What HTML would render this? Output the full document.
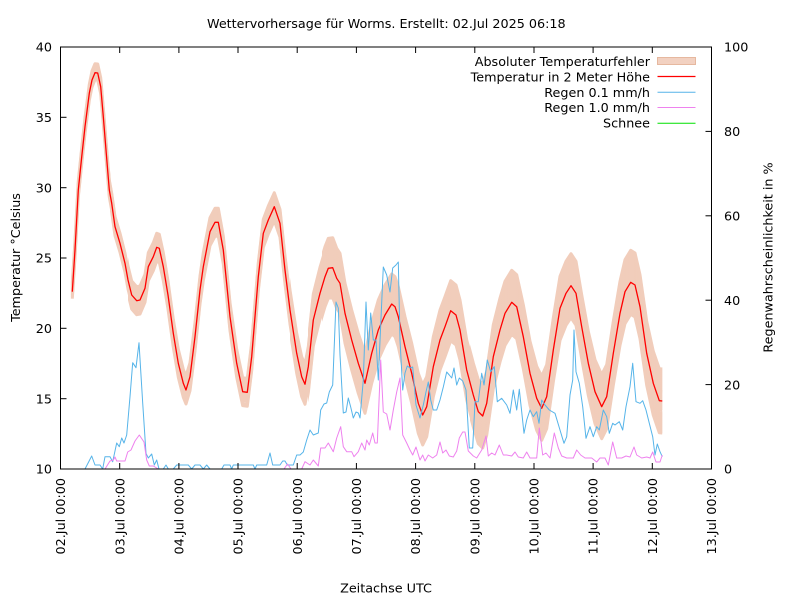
<!DOCTYPE html>
<html>
<head>
<meta charset="utf-8">
<style>
  html,body{margin:0;padding:0;background:#fff;}
  svg{display:block;}
  text{font-family:"DejaVu Sans","Liberation Sans",sans-serif;font-size:12.75px;fill:#000;}
</style>
</head>
<body>
<svg width="800" height="600" viewBox="0 0 800 600" xmlns="http://www.w3.org/2000/svg">
<defs>
  <polyline id="tb" fill="none" stroke="#f1cdbb" stroke-width="3" stroke-linejoin="round" points="72.3,291.7 75,250 78.3,190 81.7,157 85,126.7 89.3,93.3 92,80 95,72.7 97.7,73 100.7,86.7 103.3,116.7 106,150 109.3,190 111.7,203.3 115,226.7 120,243.3 125,263.3 128,280 131.7,295 136.7,300.7 140,300 145,288.3 148.3,266.7 153.3,256.7 156.7,247.3 159.3,248.3 163.3,266.7 168,295 173.3,333.3 178.3,363.3 183.3,383.3 186,390 190,376.7 195,336.7 200,290 203.3,266.7 210,231.7 215,222.3 218.3,222.3 223.3,250 230,316.7 236.7,363.3 242.7,391.7 247.3,392.3 251.7,356.7 258.3,276.7 263.3,233.3 268.3,220 274.3,206.7 280,223.3 285,270 290,310 296.7,353.3 301.7,376.7 305,384.3 308.3,366.7 313.3,320 320,293.3 325,276.7 328.3,268.3 332.7,267.7 336.7,278.3 340,283.3 345,313.3 351.7,340 358.3,363.3 365,383.3 371.7,353.3 378.3,330 385,315 391.7,304 395,306.7 398.3,316.7 405,346.7 411.7,373.3 418.3,403.3 422.7,415 426.7,406.7 433.3,366.7 440,340 445,326.7 450.7,310.7 456,315 460,330 466.7,370 473.3,395 478.3,411.7 482.7,416 486.7,403.3 493.3,356.7 500,330 505,313.3 511.7,302.3 516.7,306.7 523.3,336.7 530,373.3 536.7,398.3 541.7,408.3 546.7,396.7 553.3,350 560,308.3 566,293.3 571,285.7 576,293.3 581.7,326.7 588.3,363.3 595,391.7 601.7,406.7 606.7,396.7 613.3,353.3 620,313.3 625,291.7 630.7,282.3 635,285 640,306.7 646.7,353.3 653.3,383.3 659.3,400.7 662.3,401"/>
  <clipPath id="c1"><rect x="110" y="0" width="700" height="600"/></clipPath>
  <clipPath id="c2"><rect x="128" y="0" width="700" height="600"/></clipPath>
  <clipPath id="c3"><rect x="290" y="0" width="700" height="600"/></clipPath>
  <clipPath id="c4"><rect x="308" y="0" width="700" height="600"/></clipPath>
  <clipPath id="c5"><rect x="322" y="0" width="700" height="600"/></clipPath>
  <clipPath id="c6"><rect x="470" y="0" width="700" height="600"/></clipPath>
</defs>

<!-- Error band -->
<g>
  <use href="#tb" transform="translate(0,-9)"/>
  <use href="#tb" transform="translate(0,-7)"/>
  <use href="#tb" transform="translate(0,-5)"/>
  <use href="#tb" transform="translate(0,-3)"/>
  <use href="#tb" transform="translate(0,-1)"/>
  <use href="#tb" transform="translate(0,1)"/>
  <use href="#tb" transform="translate(0,3)"/>
  <use href="#tb" transform="translate(0,5)"/>
  <use href="#tb" transform="translate(0,7)"/>
</g>
<g clip-path="url(#c1)">
  <use href="#tb" transform="translate(0,-10)"/>
  <use href="#tb" transform="translate(0,9)"/>
</g>
<g clip-path="url(#c2)">
  <use href="#tb" transform="translate(0,-12)"/>
  <use href="#tb" transform="translate(0,12)"/>
  <use href="#tb" transform="translate(0,-14)"/>
  <use href="#tb" transform="translate(0,14)"/>
</g>
<g clip-path="url(#c3)">
  <use href="#tb" transform="translate(0,-16)"/>
  <use href="#tb" transform="translate(0,16)"/>
  <use href="#tb" transform="translate(0,-18)"/>
  <use href="#tb" transform="translate(0,18)"/>
  <use href="#tb" transform="translate(0,-20)"/>
  <use href="#tb" transform="translate(0,20)"/>
</g>
<g clip-path="url(#c4)">
  <use href="#tb" transform="translate(0,-22)"/>
  <use href="#tb" transform="translate(0,22)"/>
  <use href="#tb" transform="translate(0,-24)"/>
  <use href="#tb" transform="translate(0,24)"/>
  <use href="#tb" transform="translate(0,-26)"/>
  <use href="#tb" transform="translate(0,26)"/>
</g>
<g clip-path="url(#c5)">
  <use href="#tb" transform="translate(0,-28)"/>
  <use href="#tb" transform="translate(0,28)"/>
  <use href="#tb" transform="translate(0,-30)"/>
  <use href="#tb" transform="translate(0,30)"/>
</g>
<g clip-path="url(#c6)">
  <use href="#tb" transform="translate(0,-32)"/>
  <use href="#tb" transform="translate(0,32)"/>
</g>

<!-- Temperature line -->
<polyline fill="none" stroke="#ff0000" stroke-width="1.3" stroke-linejoin="round" points="72.3,291.7 75,250 78.3,190 81.7,157 85,126.7 89.3,93.3 92,80 95,72.7 97.7,73 100.7,86.7 103.3,116.7 106,150 109.3,190 111.7,203.3 115,226.7 120,243.3 125,263.3 128,280 131.7,295 136.7,300.7 140,300 145,288.3 148.3,266.7 153.3,256.7 156.7,247.3 159.3,248.3 163.3,266.7 168,295 173.3,333.3 178.3,363.3 183.3,383.3 186,390 190,376.7 195,336.7 200,290 203.3,266.7 210,231.7 215,222.3 218.3,222.3 223.3,250 230,316.7 236.7,363.3 242.7,391.7 247.3,392.3 251.7,356.7 258.3,276.7 263.3,233.3 268.3,220 274.3,206.7 280,223.3 285,270 290,310 296.7,353.3 301.7,376.7 305,384.3 308.3,366.7 313.3,320 320,293.3 325,276.7 328.3,268.3 332.7,267.7 336.7,278.3 340,283.3 345,313.3 351.7,340 358.3,363.3 365,383.3 371.7,353.3 378.3,330 385,315 391.7,304 395,306.7 398.3,316.7 405,346.7 411.7,373.3 418.3,403.3 422.7,415 426.7,406.7 433.3,366.7 440,340 445,326.7 450.7,310.7 456,315 460,330 466.7,370 473.3,395 478.3,411.7 482.7,416 486.7,403.3 493.3,356.7 500,330 505,313.3 511.7,302.3 516.7,306.7 523.3,336.7 530,373.3 536.7,398.3 541.7,408.3 546.7,396.7 553.3,350 560,308.3 566,293.3 571,285.7 576,293.3 581.7,326.7 588.3,363.3 595,391.7 601.7,406.7 606.7,396.7 613.3,353.3 620,313.3 625,291.7 630.7,282.3 635,285 640,306.7 646.7,353.3 653.3,383.3 659.3,400.7 662.3,401"/>

<!-- Regen 0.1 mm/h -->
<polyline fill="none" stroke="#56b4e9" stroke-width="1" stroke-linejoin="round" points="72.3,469 85,469 91.7,456 95,465 100,465 102.7,469 105,456.7 110,456.7 112.7,461.7 116.7,443 119.3,446.7 121.7,438 124,443 126.7,435 130,396.7 132.7,362.7 136,367.7 139,342.7 142.7,403 146,453.3 148.3,458 151.7,454 154.3,465 156.7,460 159,469 163.3,469 166,465 168.3,469 173.3,469 176.7,465 188.3,465 191.7,469 195,465 200,465 203.3,469 206.7,465 210,469 221.7,469 224,465 230,465 231.7,469 233.3,465 253.3,465 255,469 256.7,465 266.7,465 270,453 272.7,465 280,465 282.7,461 285,461 287.3,465 293.3,465 296.7,455 300,455 303.3,452 306.7,440 310,430 313.3,435 318.3,433 320.7,410 324,404 326.7,403 329.3,392 332.7,385 336,302 338.3,308 340,355 343.3,413 346,412 348.3,398 350.7,407 353.3,418 356,412 358.3,413 360,418 363.3,380 366,302 368.3,350 370.7,313 373.3,340 376,340 378.3,380 380.7,325 383.3,267 386.7,275 390,292 392.7,268 396,265 398.3,262 400,340 402.7,390 405,373 407.3,366 410,368 412.7,367 416,405 420,418 423.3,405 426,392 428.3,382 430.7,400 433.3,410 436.7,410 440,400 443.3,387 446.7,372 449.3,375 451.7,378 454,368 456.7,385 459.3,378 462.7,381 466,390 469.3,448 472.7,448 475,401.7 478.3,401.7 481.7,373.3 484,385 487.3,360 490.7,371.7 494.3,366.7 497.3,401.7 501.7,398.3 506.7,405 510,413.3 513.3,390 516.7,410 519.3,389.3 524,433.3 526.7,420 530,410 533.3,416.7 536.7,411.7 539,423.3 541.7,400 545,405 549.3,410 555,413.3 560,430 564,443.3 566.7,436.7 570,395 572.7,380 574,330 576,371.7 579.3,383.3 582.7,406.7 586,438.3 590,426.7 593.3,436.7 596.7,426.7 599.3,430 603.3,410 606.7,416.7 609.3,433.3 612.7,423.3 615,425 619.3,421.7 622.7,430 626,406.7 630,386.7 632.7,363.3 636,401.7 640,403.3 642.7,400.7 646,410 649.3,423.3 652.7,436.7 655,455 657.3,444 660,451.7 662.3,456.7"/>

<!-- Regen 1.0 mm/h -->
<polyline fill="none" stroke="#ee82ee" stroke-width="1" stroke-linejoin="round" points="72.3,469 105,469 110,461 113.3,460 115,457 116.7,461 125,461 127.7,452 131,450 135,441 139.3,435 144,442 146.7,460 149.3,466 153.3,466 158.3,469 284,469 287.5,464 291,469 301.7,469 305,461.7 310,465 313.3,460 318.3,466 320.7,448 325,448 328.3,443 333.3,451.7 336.7,438 340.7,426.7 343.3,446.7 346.7,451.7 351.7,451.7 354,456.7 358.3,451.7 361.7,443 365,450 366.7,440 369.3,445 372.7,433 375,443 377.3,443 380.7,360 383.3,412 386.7,414 390,430 393.3,410 396.7,392 400,378 402.7,435 406.7,443 410,450 412.7,455 416,447 420,460 422.7,455 425,461 428.3,455 432.7,458 436.7,455 440,442 442.7,453 446,450 449.3,456 453.3,457 456.7,451 459.3,438 462.7,432 465,432 468.3,451 473.3,456 476.7,458 481.7,450 486,436 488.3,456 491.7,453 495,455 499.3,445 503.3,455 506.7,455 511.7,456 515,452 518.3,457 523.3,458 526.7,452 530,458 536.7,458 539.3,428 542.7,455 546,453 550,458 554.3,433 558.3,448 561.7,456 566.7,458 573.3,458 576.7,450 580.7,455 585,458 591.7,458 596.7,462 600,458 605,458 608.3,465 612.7,442 616.7,458 621.7,458 626,456 630,457 634,447 636.7,455 641.7,458 646.7,457 650,458 652.7,452 656,462 660,462 662.3,455"/>

<!-- Schnee -->
<line x1="72.3" y1="469" x2="662.3" y2="469" stroke="#00e000" stroke-width="1"/>

<!-- Frame -->
<rect x="60.5" y="47" width="651" height="422" fill="none" stroke="#000" stroke-width="1"/>

<!-- Ticks -->
<g stroke="#000" stroke-width="1">
  <line x1="60.5" y1="117.3" x2="66.5" y2="117.3"/>
  <line x1="60.5" y1="187.7" x2="66.5" y2="187.7"/>
  <line x1="60.5" y1="258" x2="66.5" y2="258"/>
  <line x1="60.5" y1="328.3" x2="66.5" y2="328.3"/>
  <line x1="60.5" y1="398.7" x2="66.5" y2="398.7"/>
  <line x1="705.5" y1="384.6" x2="711.5" y2="384.6"/>
  <line x1="705.5" y1="300.2" x2="711.5" y2="300.2"/>
  <line x1="705.5" y1="215.8" x2="711.5" y2="215.8"/>
  <line x1="705.5" y1="131.4" x2="711.5" y2="131.4"/>
  <line x1="119.7" y1="469" x2="119.7" y2="463"/><line x1="119.7" y1="47" x2="119.7" y2="53"/>
  <line x1="178.9" y1="469" x2="178.9" y2="463"/><line x1="178.9" y1="47" x2="178.9" y2="53"/>
  <line x1="238.0" y1="469" x2="238.0" y2="463"/><line x1="238.0" y1="47" x2="238.0" y2="53"/>
  <line x1="297.2" y1="469" x2="297.2" y2="463"/><line x1="297.2" y1="47" x2="297.2" y2="53"/>
  <line x1="356.4" y1="469" x2="356.4" y2="463"/><line x1="356.4" y1="47" x2="356.4" y2="53"/>
  <line x1="415.6" y1="469" x2="415.6" y2="463"/><line x1="415.6" y1="47" x2="415.6" y2="53"/>
  <line x1="474.8" y1="469" x2="474.8" y2="463"/><line x1="474.8" y1="47" x2="474.8" y2="53"/>
  <line x1="534.0" y1="469" x2="534.0" y2="463"/><line x1="534.0" y1="47" x2="534.0" y2="53"/>
  <line x1="593.1" y1="469" x2="593.1" y2="463"/><line x1="593.1" y1="47" x2="593.1" y2="53"/>
  <line x1="652.3" y1="469" x2="652.3" y2="463"/><line x1="652.3" y1="47" x2="652.3" y2="53"/>
</g>

<!-- Title -->
<text x="386.3" y="28" text-anchor="middle">Wettervorhersage für Worms. Erstellt: 02.Jul 2025 06:18</text>

<!-- Left tick labels -->
<g text-anchor="end">
  <text x="52" y="51.7">40</text>
  <text x="52" y="122">35</text>
  <text x="52" y="192.4">30</text>
  <text x="52" y="262.7">25</text>
  <text x="52" y="333">20</text>
  <text x="52" y="403.4">15</text>
  <text x="52" y="473.7">10</text>
</g>

<!-- Right tick labels -->
<g>
  <text x="724" y="51.7">100</text>
  <text x="724" y="136.1">80</text>
  <text x="724" y="220.5">60</text>
  <text x="724" y="304.9">40</text>
  <text x="724" y="389.3">20</text>
  <text x="724" y="473.7">0</text>
</g>

<!-- X tick labels -->
<g text-anchor="end">
  <text transform="translate(65.1,478) rotate(-90)">02.Jul 00:00</text>
  <text transform="translate(124.3,478) rotate(-90)">03.Jul 00:00</text>
  <text transform="translate(183.5,478) rotate(-90)">04.Jul 00:00</text>
  <text transform="translate(242.6,478) rotate(-90)">05.Jul 00:00</text>
  <text transform="translate(301.8,478) rotate(-90)">06.Jul 00:00</text>
  <text transform="translate(361.0,478) rotate(-90)">07.Jul 00:00</text>
  <text transform="translate(420.2,478) rotate(-90)">08.Jul 00:00</text>
  <text transform="translate(479.4,478) rotate(-90)">09.Jul 00:00</text>
  <text transform="translate(538.6,478) rotate(-90)">10.Jul 00:00</text>
  <text transform="translate(597.7,478) rotate(-90)">11.Jul 00:00</text>
  <text transform="translate(656.9,478) rotate(-90)">12.Jul 00:00</text>
  <text transform="translate(716.1,478) rotate(-90)">13.Jul 00:00</text>
</g>

<!-- Axis labels -->
<text x="386" y="592.5" text-anchor="middle">Zeitachse UTC</text>
<text transform="translate(19.8,257.5) rotate(-90)" text-anchor="middle">Temperatur °Celsius</text>
<text transform="translate(772.5,257.5) rotate(-90)" text-anchor="middle">Regenwahrscheinlichkeit in %</text>

<!-- Legend -->
<g text-anchor="end">
  <text x="650" y="66.2">Absoluter Temperaturfehler</text>
  <text x="650" y="81.4">Temperatur in 2 Meter Höhe</text>
  <text x="650" y="96.8">Regen 0.1 mm/h</text>
  <text x="650" y="112.1">Regen 1.0 mm/h</text>
  <text x="650" y="127.6">Schnee</text>
</g>
<rect x="657.5" y="57.5" width="38" height="7" fill="#f2d1c1" stroke="#e6b89f" stroke-width="1"/>
<line x1="657.5" y1="76.5" x2="695.5" y2="76.5" stroke="#ff0000" stroke-width="1.2"/>
<line x1="657.5" y1="92.3" x2="695.5" y2="92.3" stroke="#56b4e9" stroke-width="1"/>
<line x1="657.5" y1="107.5" x2="695.5" y2="107.5" stroke="#ee82ee" stroke-width="1"/>
<line x1="657.5" y1="123.3" x2="695.5" y2="123.3" stroke="#00e000" stroke-width="1"/>
</svg>
</body>
</html>
